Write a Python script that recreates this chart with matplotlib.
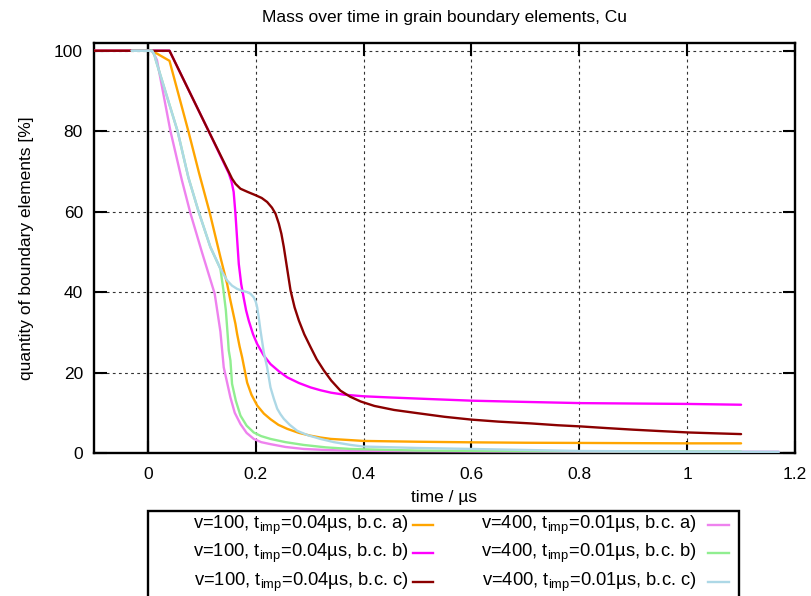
import matplotlib
matplotlib.use("Agg")
import matplotlib.pyplot as plt
from matplotlib.lines import Line2D
from matplotlib.patches import Rectangle

plt.rcParams["font.family"] = ["Liberation Sans", "DejaVu Sans"]
plt.rcParams["mathtext.fontset"] = "custom"
plt.rcParams["mathtext.rm"] = "Liberation Sans"

# v=100, t_imp=0.04 us
orange_t = [-0.1, 0.0075, 0.04, 0.075, 0.095, 0.1145, 0.1344, 0.1468, 0.153, 0.1623,
            0.1654, 0.17, 0.1747, 0.184, 0.192, 0.2026, 0.215, 0.2273, 0.242, 0.2584,
            0.28, 0.3017, 0.32, 0.339, 0.376, 0.4, 0.45, 0.5, 0.602, 0.7,
            0.8035, 0.9, 1.0, 1.1]
orange_v = [100, 100, 97.5, 80, 69.5, 59.8, 48.7, 42.1, 37.9, 32.1,
            29.6, 26.5, 23.8, 17.5, 14.5, 11.8, 9.8, 8.4, 7.0, 6.0,
            5.0, 4.3, 3.85, 3.5, 3.2, 3.0, 2.9, 2.8, 2.65, 2.55,
            2.5, 2.45, 2.4, 2.4]

magenta_t = [-0.1, 0.04, 0.1127, 0.15, 0.155, 0.159, 0.1623, 0.1655, 0.1685, 0.173,
             0.1777, 0.182, 0.187, 0.195, 0.2026, 0.215, 0.2273, 0.243, 0.2584, 0.28,
             0.3017, 0.32, 0.3394, 0.3636, 0.4, 0.45, 0.5247, 0.602, 0.7, 0.8035,
             0.9, 1.0, 1.1]
magenta_v = [100, 100, 80, 69.5, 67.5, 64.9, 59.5, 53.0, 47.0, 42.0,
             38.5, 35.5, 32.9, 29.5, 27.1, 24.2, 22.1, 20.3, 18.8, 17.4,
             16.3, 15.6, 15.0, 14.5, 14.1, 13.8, 13.4, 13.0, 12.7, 12.4,
             12.3, 12.2, 12.0]

darkred_t = [-0.1, 0.04, 0.1127, 0.1498, 0.156, 0.1625, 0.1716, 0.185, 0.1994, 0.211,
             0.2211, 0.23, 0.2366, 0.2428, 0.2475, 0.252, 0.258, 0.2645, 0.272, 0.280,
             0.29, 0.3017, 0.313, 0.3264, 0.34, 0.357, 0.375, 0.3946, 0.42, 0.4565,
             0.5, 0.55, 0.6, 0.65, 0.7106, 0.76, 0.8035, 0.85, 0.9, 0.95,
             1.003, 1.05, 1.1]
darkred_v = [100, 100, 80, 69.9, 68.2, 66.9, 65.7, 64.9, 64.1, 63.4,
             62.4, 61.0, 59.5, 57.0, 54.5, 51.2, 46.0, 40.4, 36.2, 32.9,
             29.5, 26.3, 23.3, 20.5, 18.0, 15.5, 14.0, 12.8, 11.7, 10.7,
             9.9, 9.0, 8.3, 7.8, 7.35, 6.9, 6.6, 6.2, 5.8, 5.45,
             5.1, 4.9, 4.7]

# v=400, t_imp=0.01 us
violet_t = [-0.03, 0.0075, 0.012, 0.0167, 0.0415, 0.063, 0.0786, 0.1, 0.1238, 0.1344,
            0.1406, 0.153, 0.161, 0.1716, 0.183, 0.1963, 0.21, 0.2273, 0.255, 0.289,
            0.33, 0.376, 0.6, 0.9, 1.17]
violet_v = [100, 100, 99.0, 97.7, 80.2, 67.8, 59.7, 50.0, 39.6, 30.2,
            21.3, 13.8, 10.0, 7.2, 5.0, 3.5, 2.7, 2.2, 1.5, 1.0,
            0.75, 0.55, 0.4, 0.3, 0.3]

green_t = [-0.03, 0.0075, 0.012, 0.015, 0.055, 0.075, 0.094, 0.1158, 0.1344, 0.14,
           0.1445, 0.1487, 0.1499, 0.153, 0.156, 0.163, 0.1716, 0.183, 0.1963, 0.21,
           0.2273, 0.255, 0.289, 0.33, 0.376, 0.5, 0.7, 0.9, 1.1]
green_v = [100, 100, 99.0, 97.5, 80, 68.5, 60, 51.2, 45.8, 40.5,
           35.5, 27.9, 25.5, 23.0, 17.2, 13.0, 9.3, 6.8, 5.1, 4.2,
           3.5, 2.7, 2.0, 1.4, 1.0, 0.6, 0.45, 0.4, 0.35]

lightblue_t = [-0.03, 0.0075, 0.012, 0.015, 0.055, 0.075, 0.094, 0.1158, 0.1344, 0.1468,
               0.156, 0.1654, 0.175, 0.184, 0.19, 0.1963, 0.2, 0.2026, 0.2057, 0.2087,
               0.2149, 0.2211, 0.2273, 0.2335, 0.2398, 0.246, 0.252, 0.263, 0.277, 0.297,
               0.32, 0.345, 0.376, 0.4, 0.5, 0.602, 0.8, 1.0, 1.17]
lightblue_v = [100, 100, 99.0, 97.5, 80, 68.5, 60, 51.2, 45.8, 42.9,
               41.6, 40.8, 40.3, 40.0, 39.6, 38.7, 37.6, 36.2, 33.5, 30.5,
               25.0, 21.3, 16.3, 13.5, 11.0, 9.6, 8.5, 7.0, 5.5, 4.4,
               3.5, 2.7, 2.0, 1.6, 1.25, 1.0, 0.5, 0.35, 0.3]

series = [
    (orange_t, orange_v, "#FFA500", r"v=100, t$_{\mathregular{imp}}$=0.04µs, b.c. a)"),
    (magenta_t, magenta_v, "#FF00FF", r"v=100, t$_{\mathregular{imp}}$=0.04µs, b.c. b)"),
    (darkred_t, darkred_v, "#8B0000", r"v=100, t$_{\mathregular{imp}}$=0.04µs, b.c. c)"),
    (violet_t, violet_v, "#EE82EE", r"v=400, t$_{\mathregular{imp}}$=0.01µs, b.c. a)"),
    (green_t, green_v, "#90EE90", r"v=400, t$_{\mathregular{imp}}$=0.01µs, b.c. b)"),
    (lightblue_t, lightblue_v, "#ADD8E6", r"v=400, t$_{\mathregular{imp}}$=0.01µs, b.c. c)"),
]

x_ticks = [0, 0.2, 0.4, 0.6, 0.8, 1, 1.2]
x_tick_labels = ["0", "0.2", "0.4", "0.6", "0.8", "1", "1.2"]
y_ticks = [0, 20, 40, 60, 80, 100]

FS = 12.5
W, H = 812, 596
fig = plt.figure(figsize=(W / 100, H / 100), dpi=100)
ax = fig.add_axes([94 / W, 1 - 453 / H, (795 - 94) / W, (453 - 42.7) / H])

for t, v, c, lab in series:
    ax.plot(t, v, color=c, lw=1.7, solid_joinstyle="round", solid_capstyle="round",
            zorder=3)

ax.set_xlim(-0.1, 1.2)
ax.set_ylim(0, 102)
ax.set_xticks(x_ticks)
ax.set_xticklabels(x_tick_labels)
ax.set_yticks(y_ticks)
ax.tick_params(direction="in", length=9, width=1.5, labelsize=FS,
               top=True, right=True, pad=8, color="black")
ax.tick_params(axis="x", pad=10)

# dashed grid, leaving out the zero line at t=0
for xv in [0.2, 0.4, 0.6, 0.8, 1.0]:
    ax.axvline(xv, color="#333333", lw=0.8, ls=(0, (2.5, 3)), zorder=1)
for yv in [20, 40, 60, 80, 100]:
    ax.axhline(yv, color="#333333", lw=0.8, ls=(0, (2.5, 3)), zorder=1)
ax.axvline(0, color="black", lw=1.7, zorder=2)

for s in ax.spines.values():
    s.set_linewidth(1.7)

ax.set_title("Mass over time in grain boundary elements, Cu", fontsize=FS, pad=15)
ax.set_xlabel("time / µs", fontsize=FS, labelpad=6)
ax.set_ylabel("quantity of boundary elements [%]", fontsize=FS, labelpad=14)

# key box below the plot
def fx(px):
    return px / W

def fy(py):
    return 1 - py / H

fig.patches.append(Rectangle((fx(148), fy(620)), fx(739) - fx(148), fy(511) - fy(620),
                             transform=fig.transFigure, fill=False, lw=1.7,
                             edgecolor="black"))
row_y = [525, 553, 582]
cols = [(409, 413, 433), (697, 708, 729)]
for i, (t, v, c, lab) in enumerate(series):
    col, row = divmod(i, 3)
    tx, l0, l1 = cols[col]
    fig.text(fx(tx), fy(row_y[row]), lab, ha="right", va="center", fontsize=13.2)
    fig.lines.append(Line2D([fx(l0), fx(l1)], [fy(row_y[row])] * 2, color=c, lw=1.7,
                            transform=fig.transFigure))

fig.savefig("out.png", dpi=100)
